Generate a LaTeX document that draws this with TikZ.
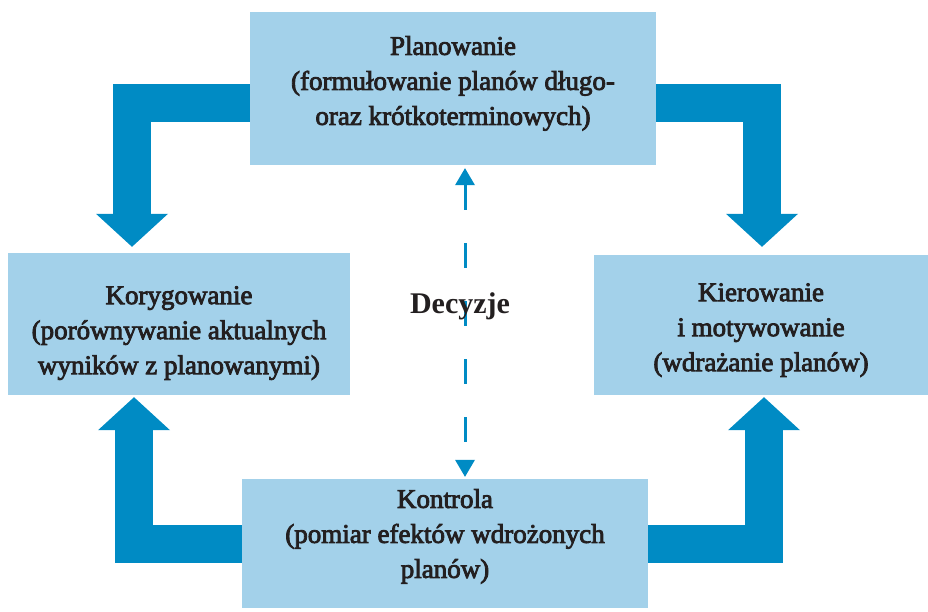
\documentclass[tikz,border=0pt]{standalone}
\usepackage{fontspec}
\setmainfont{Liberation Serif}
\newfontfamily\semibold[FakeBold=3]{Liberation Serif}
\usepackage{xcolor}
\usetikzlibrary{arrows.meta,positioning}
\definecolor{boxblue}{RGB}{163,209,234}
\definecolor{arrowblue}{RGB}{0,139,196}
\definecolor{inkgray}{RGB}{35,31,32}
\newcommand{\topstrut}[1]{\rule{0pt}{#1}}
\tikzset{
    stage-box/.style = {fill=boxblue, draw=none, rectangle, align=center, inner sep=0pt, text=inkgray, font=\semibold\fontsize{27}{35}\selectfont},
    flow-arrow/.style = {draw=arrowblue, line width=38pt, line join=miter, -{Triangle[length=33pt,width=72pt,line width=0pt]}},
    decision-arrow/.style = {draw=arrowblue, line width=3pt, dash pattern=on 25pt off 33pt, {Triangle[length=17pt,width=20pt,line width=0pt]}-{Triangle[length=17pt,width=20pt,line width=0pt]}},
    decision-label/.style = {text=inkgray, font=\bfseries\fontsize{30}{36}\selectfont, inner sep=0pt},
}

\begin{document}
\begin{tikzpicture}[x=1pt,y=-1pt]
\useasboundingbox (0,0) rectangle (928,611);
% shadow behind the decision line
\fill[left color=white, middle color=black!7, right color=white] (452,168) rectangle (482,478);

\node[stage-box, minimum width=406pt, minimum height=153pt, text depth=16pt] (plan) at (453,88.5) {Planowanie\\(formułowanie planów długo-\\oraz krótkoterminowych)};
\node[stage-box, minimum width=342pt, minimum height=142pt] (kor) at (179,324) {\topstrut{36pt}Korygowanie\\(porównywanie aktualnych\\wyników z planowanymi)};
\node[stage-box, minimum width=334pt, minimum height=140pt] (kier) at (761,325) {\topstrut{28pt}Kierowanie\\i motywowanie\\(wdrażanie planów)};
\node[stage-box, minimum width=406pt, minimum height=129pt, text depth=20pt] (kont) at (445,543.5) {Kontrola\\(pomiar efektów wdrożonych\\planów)};

% cycle arrows
\draw[flow-arrow, shorten >=6pt] ([yshift=-14pt]plan.west) -| ([xshift=-47pt]kor.north);
\draw[flow-arrow, shorten >=8pt] ([yshift=-14pt]plan.east) -| ([xshift=1pt]kier.north);
\draw[flow-arrow, shorten >=2pt] (kont.west) -| ([xshift=-45pt]kor.south);
\draw[flow-arrow, shorten >=2pt] (kont.east) -| ([xshift=3pt]kier.south);

% decisions
\draw[decision-arrow, shorten <=3pt, shorten >=2pt] ([xshift=12pt]plan.south) -- ([xshift=12pt]plan.south |- kont.north);
\node[decision-label, anchor=base] (dec) at (460,313) {Decyzje};
\end{tikzpicture}
\end{document}
